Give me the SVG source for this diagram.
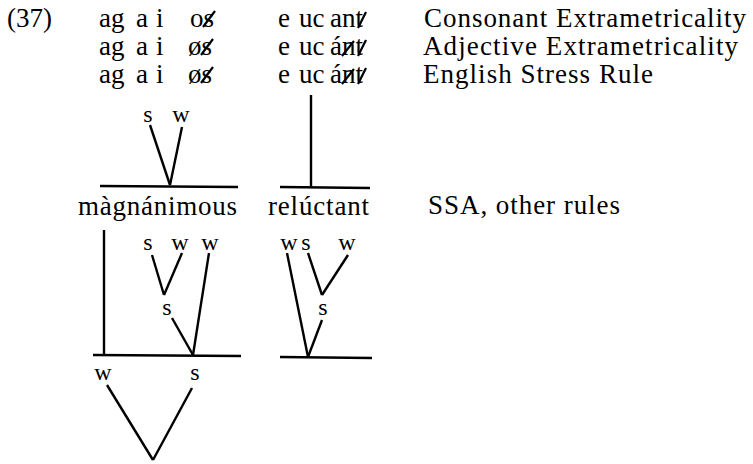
<svg xmlns="http://www.w3.org/2000/svg" width="753" height="464" viewBox="0 0 753 464">
<style>
text{font-family:"Liberation Serif","Times New Roman",serif;fill:#000}
.t{font-size:27px}
.r{font-size:27px}
.n{font-size:24px;text-anchor:middle}
.c line{stroke:#000;stroke-width:2.4;stroke-linecap:butt}
.k line{stroke:#000;stroke-width:2.2}
</style>
<rect width="753" height="464" fill="#fff"/>
<g id="rows">
<text class="t" x="7" y="27">(37)</text>
<text class="t" x="99" y="27">ag</text><text class="t" x="136" y="27">a</text><text class="t" x="156" y="27">i</text><text class="t" x="190" y="27">os</text>
<text class="t" x="278" y="27">e</text><text class="t" x="299" y="27">uc</text><text class="t" x="330" y="27">ant</text>
<text class="r" x="424" y="27" textLength="322" lengthAdjust="spacing">Consonant Extrametricality</text>
<text class="t" x="99" y="55">ag</text><text class="t" x="136" y="55">a</text><text class="t" x="156" y="55">i</text><text class="t" x="188" y="55">øs</text>
<text class="t" x="278" y="55">e</text><text class="t" x="299" y="55">uc</text><text class="t" x="330" y="55">ánt</text>
<text class="r" x="423" y="55" textLength="315" lengthAdjust="spacing">Adjective Extrametricality</text>
<text class="t" x="99" y="83">ag</text><text class="t" x="136" y="83">a</text><text class="t" x="156" y="83">i</text><text class="t" x="188" y="83">øs</text>
<text class="t" x="278" y="83">e</text><text class="t" x="299" y="83">uc</text><text class="t" x="330" y="83">ánt</text>
<text class="r" x="423" y="83" textLength="230" lengthAdjust="spacing">English Stress Rule</text>
<text class="t" x="78" y="215" textLength="159" lengthAdjust="spacing">màgnánimous</text>
<text class="t" x="268" y="215" textLength="101" lengthAdjust="spacing">relúctant</text>
<text class="r" x="428" y="214" textLength="192" lengthAdjust="spacing">SSA, other rules</text>
</g>
<g id="strikes" class="k">
<line x1="203" y1="27" x2="215" y2="11"/>
<line x1="358" y1="28" x2="366" y2="12"/>
<line x1="201" y1="55" x2="213" y2="39"/>
<line x1="342" y1="56" x2="354" y2="41"/>
<line x1="358" y1="56" x2="366" y2="40"/>
<line x1="201" y1="83" x2="213" y2="67"/>
<line x1="342" y1="84" x2="354" y2="69"/>
<line x1="358" y1="84" x2="366" y2="68"/>
</g>
<g id="connectors" class="c">
<line x1="150" y1="125" x2="170" y2="185"/>
<line x1="182" y1="127" x2="170" y2="185"/>
<line x1="100" y1="186" x2="238" y2="187"/>
<line x1="311" y1="95" x2="311" y2="187"/>
<line x1="280" y1="187" x2="370" y2="188"/>
<line x1="104" y1="230" x2="104" y2="355"/>
<line x1="152" y1="255" x2="164" y2="295"/>
<line x1="182" y1="253" x2="164" y2="295"/>
<line x1="172" y1="318" x2="193" y2="355"/>
<line x1="209" y1="253" x2="193" y2="355"/>
<line x1="93" y1="355" x2="241" y2="356"/>
<line x1="287" y1="253" x2="308" y2="357"/>
<line x1="308" y1="253" x2="322" y2="295"/>
<line x1="348" y1="255" x2="322" y2="295"/>
<line x1="322" y1="320" x2="308" y2="357"/>
<line x1="280" y1="357" x2="372" y2="358"/>
<line x1="107" y1="385" x2="153" y2="460"/>
<line x1="192" y1="388" x2="153" y2="460"/>
</g>
<g id="n1"><text class="n" x="148" y="122">s</text></g>
<g id="n2"><text class="n" x="181" y="122">w</text></g>
<g id="n3"><text class="n" x="148" y="250">s</text></g>
<g id="n4"><text class="n" x="180" y="250">w</text></g>
<g id="n5"><text class="n" x="210" y="250">w</text></g>
<g id="n6"><text class="n" x="167" y="315">s</text></g>
<g id="n7"><text class="n" x="289" y="250">w</text></g>
<g id="n8"><text class="n" x="306" y="250">s</text></g>
<g id="n9"><text class="n" x="347" y="250">w</text></g>
<g id="n10"><text class="n" x="323" y="315">s</text></g>
<g id="n11"><text class="n" x="103" y="380">w</text></g>
<g id="n12"><text class="n" x="195" y="380">s</text></g>
</svg>
